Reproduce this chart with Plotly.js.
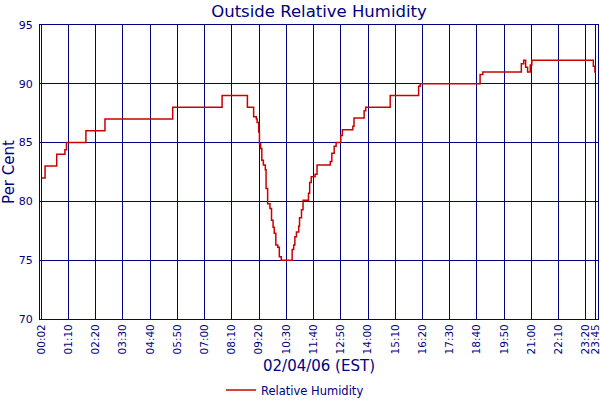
<!DOCTYPE html>
<html>
<head>
<meta charset="utf-8">
<script src="https://cdn.plot.ly/plotly-3.0.1.min.js"></script>
<style>
body{margin:0;background:#fff;}
#chart{width:600px;height:400px;}
</style>
</head>
<body>
<div id="chart"></div>
<script>
/* readings: time (HH:MM) and humidity held from that time on */
var times = ["00:02","00:10","00:40","01:01","01:05","01:55","02:44","05:38","07:45","08:50",
	"09:06","09:13","09:15","09:19","09:21","09:24","09:27","09:31","09:36","09:38",
	"09:42","09:48","09:52","09:56","09:59","10:03","10:08","10:12","10:17","10:45",
	"10:49","10:52","10:56","11:02","11:04","11:09","11:13","11:27","11:30","11:34",
	"11:44","11:49","12:23","12:27","12:33","12:38","12:50","12:54","13:21","13:24",
	"13:50","13:54","14:57","16:10","16:14","18:48","18:55","20:34","20:40","20:45",
	"20:50","20:57","21:01","23:39","23:43","23:45"];
var humidity = [82,83,84,84.4,85,86,87,88,89,88,
	87.2,87,86.7,85.9,84.9,84.5,83.5,83.1,82.7,81.1,
	79.8,79.4,78.4,77.8,77.3,76.3,76.1,75.3,75,75.9,
	76.3,77,77.4,77.9,78.6,79.3,80.1,80.7,81.6,82.1,
	82.3,83.1,83.4,84.1,84.7,85,85.6,86.1,86.4,87.1,
	87.7,88,89,89.8,90,90.8,91,91.7,92,91.4,
	91,91.6,92,91.5,91,91];
var tickLabels = ["00:02","01:10","02:20","03:30","04:40","05:50","07:00","08:10","09:20","10:30",
	"11:40","12:50","14:00","15:10","16:20","17:30","18:40","19:50","21:00","22:10",
	"23:20","23:45"];

//минуты от полуночи
function toMinutes(s){
	var p = s.split(':');
	return parseInt(p[0], 10) * 60 + parseInt(p[1], 10);
}

var navy = '#000080';
var font = 'DejaVu Sans, Verdana, sans-serif';

var line = {
	x: times.map(toMinutes),
	y: humidity,
	type: 'scatter',
	mode: 'lines',
	name: 'Relative Humidity',
	line: {color: '#cc0000', width: 1.5, shape: 'hv'}
};

var layout = {
	width: 600,
	height: 400,
	margin: {l: 40, r: 2, t: 25, b: 81},
	paper_bgcolor: '#fff',
	plot_bgcolor: '#fff',
	font: {family: font, color: navy},
	title: {
		text: 'Outside Relative Humidity',
		font: {size: 16.5, color: navy},
		x: 0.5, xref: 'paper',
		y: 0.972, yref: 'container', yanchor: 'middle'
	},
	xaxis: {
		range: [-3, 1431],
		automargin: false,
		tickvals: tickLabels.map(toMinutes),
		ticktext: tickLabels,
		tickangle: -90,
		ticklabeloverflow: 'allow',
		tickfont: {size: 10.5, color: navy},
		showgrid: true,
		gridcolor: navy,
		gridwidth: 1,
		zeroline: false,
		showline: true,
		linecolor: navy,
		linewidth: 1,
		mirror: true,
		ticks: '',
		title: {text: '02/04/06 (EST)', font: {size: 15, color: navy}, standoff: 7}
	},
	yaxis: {
		range: [70, 95],
		dtick: 5,
		automargin: false,
		tickfont: {size: 11, color: navy},
		ticklabelstandoff: 4,
		showgrid: true,
		gridcolor: navy,
		gridwidth: 1,
		zeroline: false,
		showline: true,
		linecolor: navy,
		linewidth: 1,
		mirror: true,
		ticks: '',
		title: {text: 'Per Cent', font: {size: 15, color: navy}, standoff: 6}
	},
	showlegend: true,
	legend: {
		orientation: 'h',
		x: 0.457, xanchor: 'center',
		y: 0.025, yref: 'container', yanchor: 'middle',
		font: {size: 11.5, color: navy}
	}
};

Plotly.newPlot('chart', [line], layout, {displayModeBar: false, staticPlot: true});
</script>
</body>
</html>
